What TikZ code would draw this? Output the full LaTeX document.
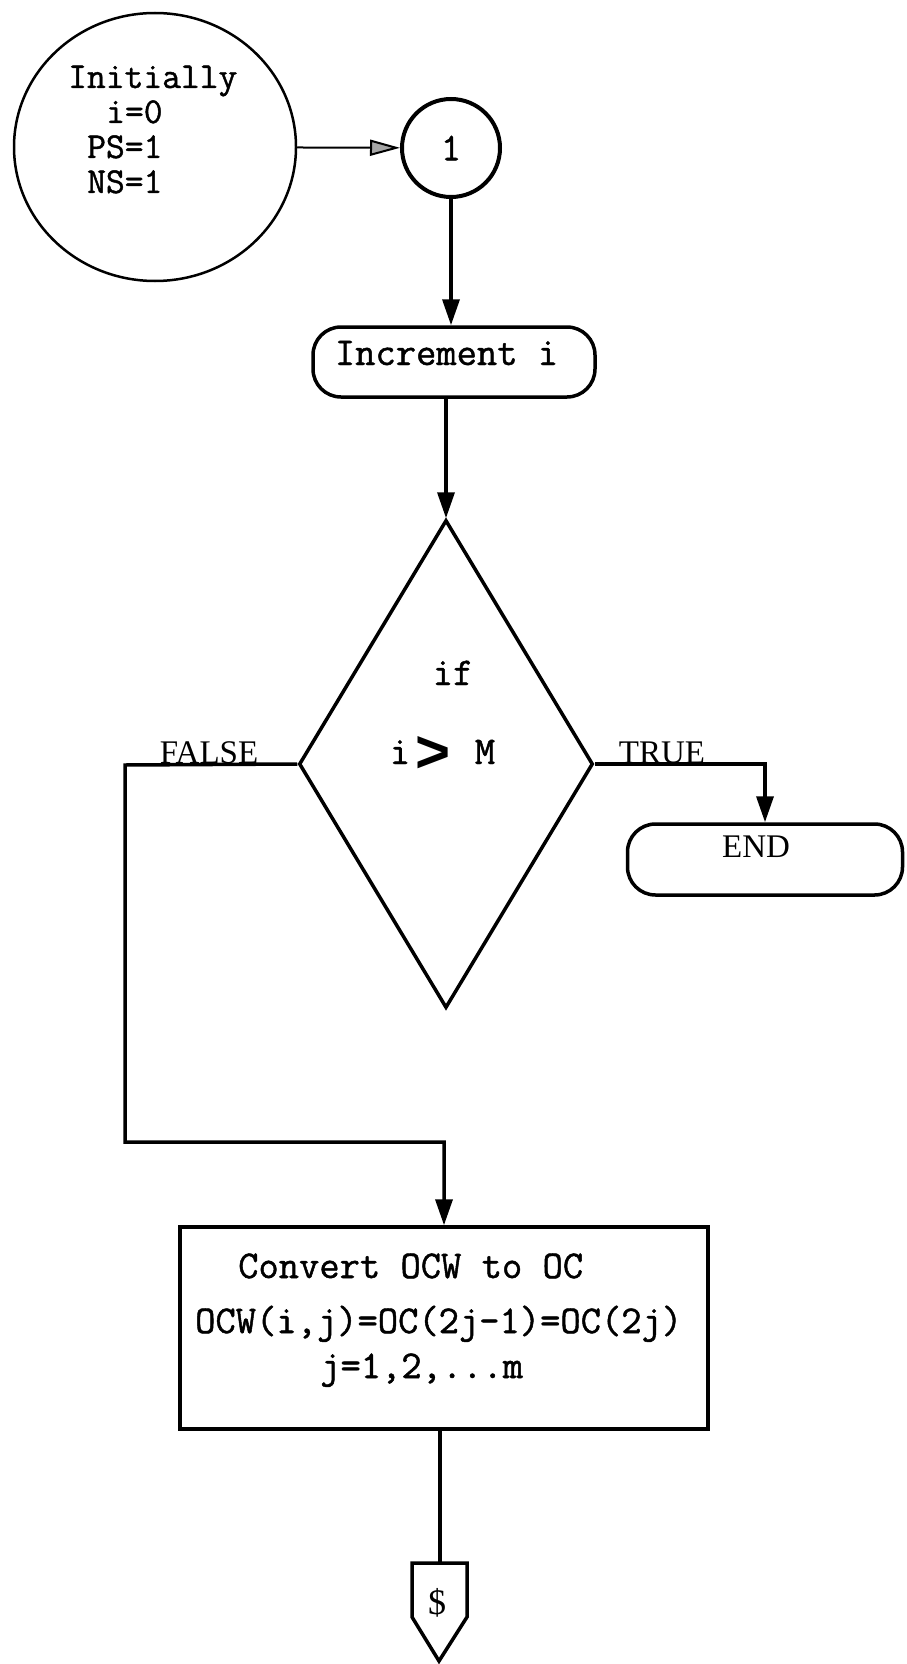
\documentclass[tikz,border=0pt]{standalone}
\usepackage{fontspec}
\setmainfont{Liberation Serif}
\newfontfamily\typew[FakeBold=1.2]{Latin Modern Mono}
\newfontfamily\gtfont{Liberation Sans}
\usetikzlibrary{arrows.meta,shapes.geometric}
\begin{document}
\begin{tikzpicture}[x=1pt,y=-1pt,
  ln/.style={line width=3.5pt},
  arr/.style={-{Triangle[length=26pt,width=17pt]}},
  tw/.style={font=\typew\fontsize{39.4}{39.4}\selectfont, inner sep=0pt},
  tline/.style={tw, anchor=base west, text height=22pt, text depth=6pt},
  iline/.style={font=\typew\fontsize{36.5}{36.5}\selectfont, inner sep=0pt, anchor=base west, text height=20pt, text depth=5pt},
  lab/.style={font=\fontsize{33}{33}\selectfont},
  stad/.style={draw, ln, rounded corners=28pt}
]
\useasboundingbox (0,0) rectangle (906,1664);

% start circle
\node[draw, ellipse, line width=2.5pt, minimum width=282pt, minimum height=268pt] (init) at (155,147) {};
\node[iline] (l1) at (68,88) {Initially};
\node[iline] (l2) at (106,123) {i=0};
\node[iline] (l3) at (87,158) {PS=1};
\node[iline] (l4) at (87,193) {NS=1};

% connector 1
\node[draw, circle, line width=4pt, minimum size=98pt, tw] (c1) at (451,148) {1};
\draw[line width=2pt, -{Triangle[length=30pt,width=16pt,fill=gray!70]}] (init) -- (c1);

% increment
\node[stad, minimum width=282pt, minimum height=70pt, tw, text height=22pt, text depth=16pt] (inc) at (454,362) {Increment i\hspace*{15pt}};
\draw[ln, arr] (c1.south) -- (c1.south |- inc.north);

% decision
\node[draw, diamond, ln, minimum width=294pt, minimum height=488pt, inner sep=0pt] (dia) at (446,764) {};
\draw[ln, arr] (inc.south -| dia.north) -- (dia.north);
\node[tw, anchor=base] (if) at (453,685) {if};
\node[tw, anchor=base] (ci) at (400,764) {i};
\node[font=\gtfont\bfseries\fontsize{60}{60}\selectfont, inner sep=0pt] (gt) at (433,754) {>};
\node[tw, anchor=base] (cm) at (485,764) {M};

% END
\node[stad, minimum width=275pt, minimum height=71pt, lab, text height=22pt, text depth=27pt] (endn) at (765,859.5) {END\hspace*{18pt}};
\draw[ln, arr] (dia.east) -- (dia.east -| endn.north) -- (endn.north);
\node[lab, anchor=base, inner sep=0pt] (tru) at (662,763) {TRUE};

% process box
\node[draw, ln, minimum width=528pt, minimum height=202pt] (box) at (444,1328) {};
\node[tline] (b1) at (238,1278) {Convert OCW to OC};
\node[tline] (b2) at (195,1333) {OCW(i,j)=OC(2j-1)=OC(2j)};
\node[tline] (b3) at (320,1378) {j=1,2,...m};

% FALSE branch
\coordinate (fl) at (125,765);
\coordinate (fb) at (125,1142);
\draw[ln, arr] (dia.west) -- (fl) -- (fb) -- (fb -| box.north) -- (box.north);
\node[lab, anchor=base, inner sep=0pt] (fal) at (209,763) {FALSE};

% off-page connector
\coordinate (offtop) at (440,1563);
\draw[ln] (412,1563) -- (467,1563) -- (467,1617) -- (439,1661) -- (412,1617) -- cycle;
\node[font=\fontsize{36}{36}\selectfont] (dol) at (437,1603) {\$};
\draw[ln] (box.south -| offtop) -- (offtop);
\end{tikzpicture}
\end{document}
